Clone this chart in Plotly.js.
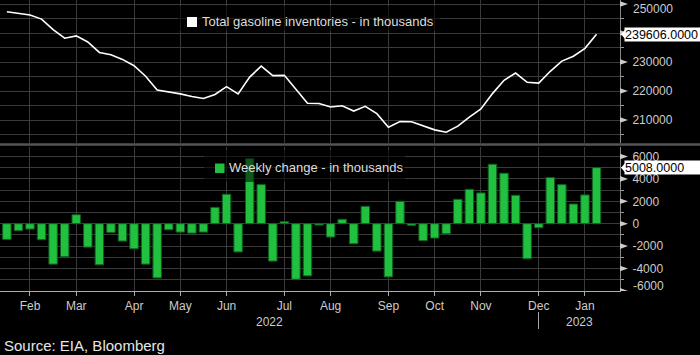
<!DOCTYPE html>
<html>
<head>
<meta charset="utf-8">
<script src="https://cdn.plot.ly/plotly-3.0.1.min.js"></script>
<style>
  html, body { margin: 0; padding: 0; background: #000; }
  #chart { width: 700px; height: 355px; }
</style>
</head>
<body>
<div id="chart"></div>
<script>
// ---------- data ----------
const weeks = [
  '2022-01-19','2022-01-26','2022-02-02','2022-02-09','2022-02-16','2022-02-23',
  '2022-03-02','2022-03-09','2022-03-16','2022-03-23','2022-03-30',
  '2022-04-06','2022-04-13','2022-04-20','2022-04-27',
  '2022-05-04','2022-05-11','2022-05-18','2022-05-25',
  '2022-06-01','2022-06-08','2022-06-15','2022-06-22','2022-06-29',
  '2022-07-06','2022-07-13','2022-07-20','2022-07-27',
  '2022-08-03','2022-08-10','2022-08-17','2022-08-24','2022-08-31',
  '2022-09-07','2022-09-14','2022-09-21','2022-09-28',
  '2022-10-05','2022-10-12','2022-10-19','2022-10-26',
  '2022-11-02','2022-11-09','2022-11-16','2022-11-23','2022-11-30',
  '2022-12-07','2022-12-14','2022-12-21','2022-12-28',
  '2023-01-04','2023-01-11'
];

const inventories = [
  247300, 246700, 246200, 244800, 241200, 238200,
  239000, 236900, 233300, 232500, 230900,
  228700, 225100, 220300, 219700,
  219000, 218100, 217400, 218800,
  221500, 219000, 224800, 228600, 225300,
  225400, 220500, 215800, 215700,
  214500, 214900, 213100, 214700, 212200,
  207500, 209500, 209400, 207900,
  206600, 205800, 207900, 211000,
  213800, 219100, 223700, 226200, 223000,
  222700, 226800, 230300, 232000,
  234700, 239606
];

const weeklyChange = [
  -1400, -630, -480, -1430, -3610, -2950,
  800, -2090, -3670, -780, -1550,
  -2240, -3610, -4840, -540,
  -750, -840, -750, 1460,
  2630, -2520, 5820, 3490, -3340,
  180, -4960, -4660, -120,
  -1190, 390, -1790, 1550, -2450,
  -4750, 2000, -150, -1520,
  -1280, -900, 2180, 3070,
  2750, 5310, 4510, 2540, -3130,
  -360, 4120, 3490, 1760,
  2570, 5008
];

const monthTickDates = ['2022-02-02','2022-03-02','2022-04-06','2022-05-04','2022-06-01','2022-07-06',
                        '2022-08-03','2022-09-07','2022-10-05','2022-11-02','2022-12-07','2023-01-04'];
const monthTickLabels = ['Feb','Mar','Apr','May','Jun','Jul','Aug','Sep','Oct','Nov','Dec','Jan'];
const invTicks = [210000, 220000, 230000, 240000, 250000];
// 240000 sits under the last-value box; 250000 is drawn nudged inward (as in the reference)
const invTickLabels = ['210000', '220000', '230000', '', ''];
const invEdgeLabel = '250000';
const chgTicks = [-6000, -4000, -2000, 0, 2000, 4000, 6000];
const chgTickLabels = ['', '-4000', '-2000', '0', '2000', '4000', '6000'];
const chgEdgeLabel = '-6000';
const yearLabels = ['2022', '2023'];

const topLegendText = 'Total gasoline inventories - in thousands';
const bottomLegendText = 'Weekly change - in thousands';
const sourceText = 'Source: EIA, Bloomberg';

// ---------- layout helpers (pixel -> paper) ----------
const PW = 620, PH = 291;
const px = x => x / PW;
const py = y => (PH - y) / PH;

const FONT = 'Liberation Sans, Arial, sans-serif';
const GRID = '#3a3a3a';
const TICKC = '#cccccc';
const GREEN = '#22c03f';

const traces = [
  {
    type: 'scatter', mode: 'lines', x: weeks, y: inventories,
    xaxis: 'x', yaxis: 'y', name: topLegendText,
    line: { color: '#ffffff', width: 1.6 }, hoverinfo: 'x+y'
  },
  {
    type: 'bar', x: weeks, y: weeklyChange,
    xaxis: 'x', yaxis: 'y2', name: bottomLegendText,
    marker: { color: GREEN, line: { color: '#0f5f20', width: 1 } }
  }
];

const shapes = [];
// separator between panels
shapes.push({ type: 'line', xref: 'paper', yref: 'paper', x0: 0, x1: px(700), y0: py(144.6), y1: py(144.6),
  line: { color: '#555555', width: 2.5 } });
// year separator
shapes.push({ type: 'line', xref: 'paper', yref: 'paper', x0: px(538.5), x1: px(538.5), y0: py(312), y1: py(329),
  line: { color: '#aaaaaa', width: 1 } });
// legend backgrounds
shapes.push({ type: 'rect', layer: 'above', xref: 'paper', yref: 'paper',
  x0: px(178), x1: px(440), y0: py(31), y1: py(6), fillcolor: 'rgba(0,0,0,0.55)', line: { width: 0 } });
shapes.push({ type: 'rect', layer: 'above', xref: 'paper', yref: 'paper',
  x0: px(204), x1: px(405), y0: py(182), y1: py(150), fillcolor: 'rgba(0,0,0,0.55)', line: { width: 0 } });
// legend squares
shapes.push({ type: 'rect', layer: 'above', xref: 'paper', yref: 'paper',
  x0: px(187), x1: px(197), y0: py(27), y1: py(17), fillcolor: '#ffffff', line: { width: 0 } });
shapes.push({ type: 'rect', layer: 'above', xref: 'paper', yref: 'paper',
  x0: px(215), x1: px(224.5), y0: py(173), y1: py(163.5), fillcolor: GREEN, line: { width: 0 } });
// tick arrows on right axes
invTicks.forEach(v => shapes.push({ type: 'path', xref: 'paper', yref: 'y', xsizemode: 'pixel', ysizemode: 'pixel',
  xanchor: 1, yanchor: v, path: 'M0,2.8L8,0L0,-2.8Z', fillcolor: TICKC, line: { width: 0 } }));
chgTicks.forEach(v => shapes.push({ type: 'path', xref: 'paper', yref: 'y2', xsizemode: 'pixel', ysizemode: 'pixel',
  xanchor: 1, yanchor: v, path: 'M0,2.8L8,0L0,-2.8Z', fillcolor: TICKC, line: { width: 0 } }));

const lastInv = inventories[inventories.length - 1];
const lastChg = weeklyChange[weeklyChange.length - 1];
// pointers for last-value boxes
shapes.push({ type: 'path', layer: 'above', xref: 'paper', yref: 'y', xsizemode: 'pixel', ysizemode: 'pixel',
  xanchor: 1, yanchor: lastInv, path: 'M1,0L5,4.5L5,-4.5Z', fillcolor: '#ffffff', line: { width: 0 } });
shapes.push({ type: 'path', layer: 'above', xref: 'paper', yref: 'y2', xsizemode: 'pixel', ysizemode: 'pixel',
  xanchor: 1, yanchor: lastChg, path: 'M1,0L5,4.5L5,-4.5Z', fillcolor: '#ffffff', line: { width: 0 } });

const annotations = [
  { xref: 'paper', yref: 'paper', x: px(199.5), y: py(22), xanchor: 'left', yanchor: 'middle', showarrow: false,
    text: topLegendText, font: { family: FONT, size: 13, color: '#dddddd' } },
  { xref: 'paper', yref: 'paper', x: px(227), y: py(168), xanchor: 'left', yanchor: 'middle', showarrow: false,
    text: bottomLegendText, font: { family: FONT, size: 13, color: '#dddddd' } },
  // edge tick labels nudged inside the picture
  { xref: 'paper', yref: 'paper', x: px(631), y: py(8.5), xanchor: 'left', yanchor: 'middle', showarrow: false,
    text: invEdgeLabel, font: { family: FONT, size: 12, color: TICKC } },
  { xref: 'paper', yref: 'paper', x: px(631), y: py(285.5), xanchor: 'left', yanchor: 'middle', showarrow: false,
    text: chgEdgeLabel, font: { family: FONT, size: 12, color: TICKC } },
  { xref: 'paper', yref: 'y', x: 1, y: lastInv, xanchor: 'left', yanchor: 'middle', xshift: 4, showarrow: false,
    text: lastInv.toFixed(4), bgcolor: '#ffffff', borderpad: 0, width: 76, height: 13, align: 'left',
    font: { family: FONT, size: 12.5, color: '#000000' } },
  { xref: 'paper', yref: 'y2', x: 1, y: lastChg, xanchor: 'left', yanchor: 'middle', xshift: 4, showarrow: false,
    text: lastChg.toFixed(4), bgcolor: '#ffffff', borderpad: 0, width: 76, height: 13, align: 'left',
    font: { family: FONT, size: 12.5, color: '#000000' } },
  { xref: 'paper', yref: 'paper', x: px(269), y: py(322), xanchor: 'center', yanchor: 'middle', showarrow: false,
    text: yearLabels[0], font: { family: FONT, size: 12, color: TICKC } },
  { xref: 'paper', yref: 'paper', x: px(579), y: py(322), xanchor: 'center', yanchor: 'middle', showarrow: false,
    text: yearLabels[1], font: { family: FONT, size: 12, color: TICKC } },
  { xref: 'paper', yref: 'paper', x: px(2), y: py(345), xanchor: 'left', yanchor: 'middle', showarrow: false,
    text: sourceText, font: { family: FONT, size: 15, color: '#e6e6e6' } }
];

const layout = {
  width: 700, height: 355,
  margin: { l: 0, r: 80, t: 0, b: 64, pad: 0 },
  paper_bgcolor: '#000000', plot_bgcolor: '#000000',
  showlegend: false,
  bargap: 0.27,
  font: { family: FONT, color: TICKC, size: 12 },
  xaxis: {
    type: 'date', anchor: 'y2',
    range: ['2022-01-14 20:10', '2023-01-25 05:00'],
    tickmode: 'array', tickvals: monthTickDates, ticktext: monthTickLabels,
    ticks: 'outside', ticklen: 4, tickcolor: '#aaaaaa',
    showgrid: true, gridcolor: GRID, gridwidth: 1,
    showline: true, linecolor: '#aaaaaa', linewidth: 1,
    tickfont: { family: FONT, size: 12, color: TICKC },
    zeroline: false, fixedrange: true
  },
  yaxis: {
    domain: [py(143), 1], anchor: 'x', side: 'right',
    range: [202070, 251380],
    tickmode: 'array', tickvals: invTicks, ticktext: invTickLabels,
    ticks: '', ticklabelstandoff: 9,
    showgrid: true, gridcolor: GRID,
    minor: { tickmode: 'linear', tick0: 0, dtick: 5000, showgrid: true, gridcolor: GRID,
             ticks: 'outside', ticklen: 3, tickcolor: '#999999' },
    showline: true, linecolor: '#888888', linewidth: 1,
    tickfont: { family: FONT, size: 12, color: TICKC },
    zeroline: false, fixedrange: true
  },
  yaxis2: {
    domain: [0, py(147)], anchor: 'x', side: 'right',
    range: [-6010, 6850],
    tickmode: 'array', tickvals: chgTicks, ticktext: chgTickLabels,
    ticks: '', ticklabelstandoff: 9,
    showgrid: true, gridcolor: GRID,
    minor: { tickmode: 'linear', tick0: 0, dtick: 1000, showgrid: true, gridcolor: GRID,
             ticks: 'outside', ticklen: 3, tickcolor: '#999999' },
    showline: true, linecolor: '#888888', linewidth: 1,
    tickfont: { family: FONT, size: 12, color: TICKC },
    zeroline: false, fixedrange: true
  },
  shapes: shapes,
  annotations: annotations
};

Plotly.newPlot('chart', traces, layout, { displayModeBar: false, staticPlot: true });
</script>
</body>
</html>
